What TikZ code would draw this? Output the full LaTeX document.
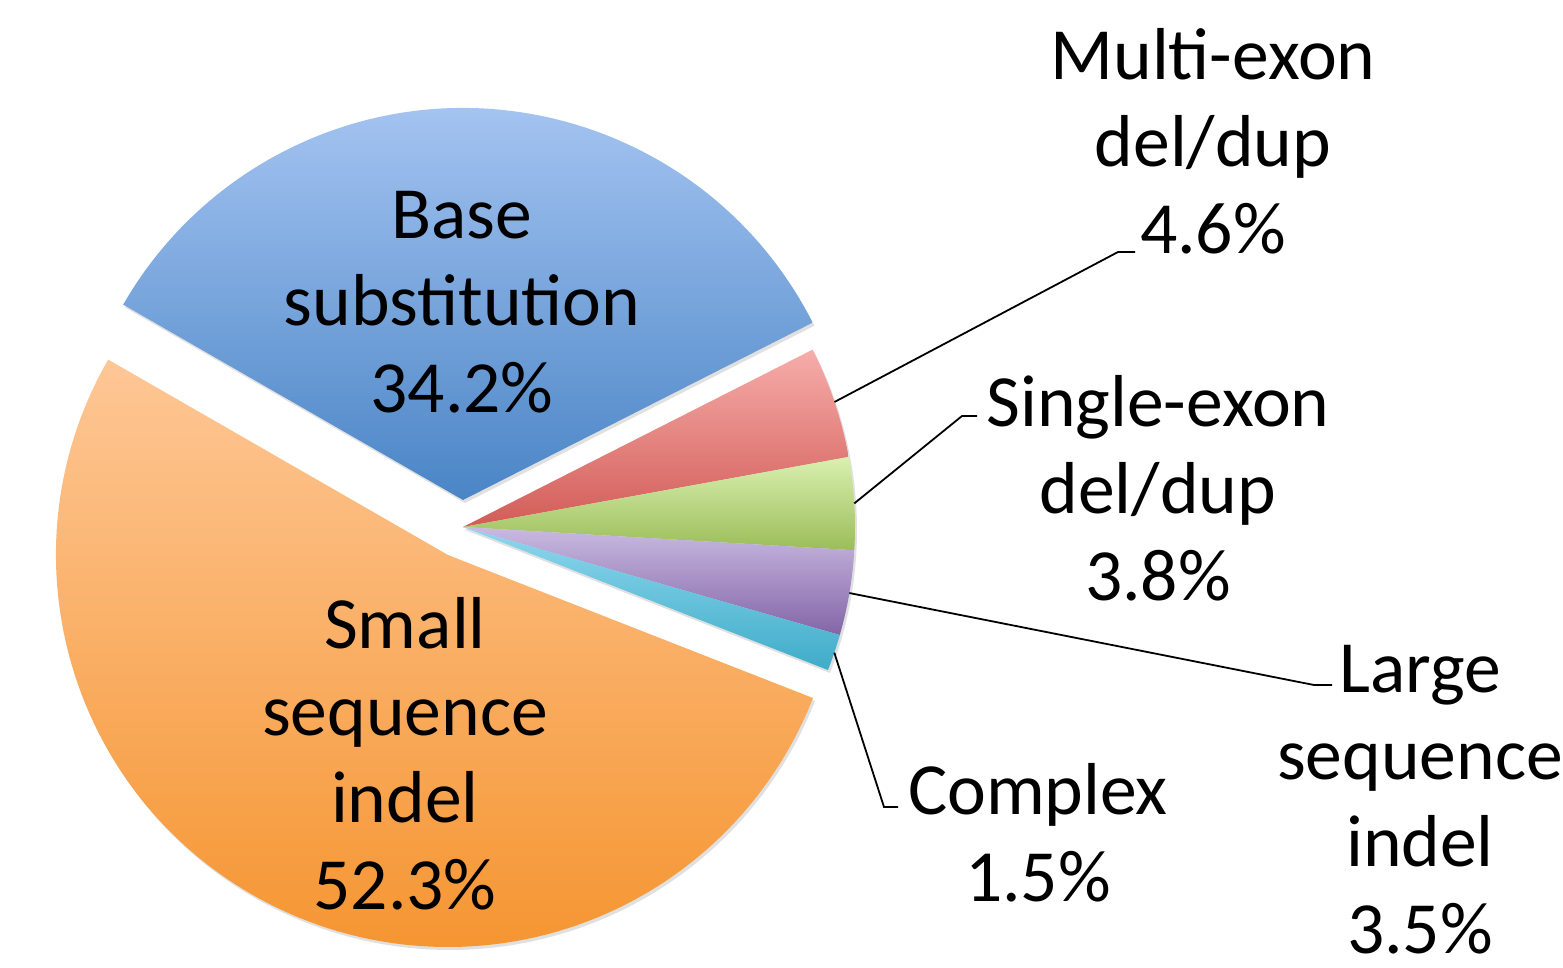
\documentclass[tikz,border=0pt]{standalone}
\usepackage{fontspec}
\setmainfont{Carlito}
\usetikzlibrary{calc}
\definecolor{baseTop}{HTML}{B0CCF7}
\definecolor{baseBot}{HTML}{4A85C6}
\definecolor{smallTop}{HTML}{FEC796}
\definecolor{smallBot}{HTML}{F5942F}
\definecolor{multiTop}{HTML}{F6ADAA}
\definecolor{multiBot}{HTML}{D25C57}
\definecolor{singleTop}{HTML}{DAF0B1}
\definecolor{singleBot}{HTML}{9BBD58}
\definecolor{largeTop}{HTML}{C9BAE1}
\definecolor{largeBot}{HTML}{8365A7}
\definecolor{cplxTop}{HTML}{8ED7EE}
\definecolor{cplxBot}{HTML}{3FACC8}
\newcommand\pieslicepath[3]{(#1) -- ($(#1)+(#2:392)$) arc[start angle=#2, end angle=#3, radius=392] -- cycle}
\begin{document}
\begin{tikzpicture}[x=0.5pt,y=0.5pt,
  lbl/.style={font=\fontsize{36.8pt}{43.5pt}\selectfont, align=center, inner sep=0pt, text=black},
  leader/.style={draw=black, line width=0.9pt},
  sliceshadow/.style={fill=black, opacity=0.12, transform canvas={xshift=1pt,yshift=-1.5pt}},
  wedge/.style 2 args={shading=axis, top color=#1, bottom color=#2}
]
\useasboundingbox (0,0) rectangle (1563,-968);
\coordinate (C) at (463,-527);
\coordinate (CB) at (463,-500);
\coordinate (CS) at (448,-555);

% shadows
\fill[sliceshadow] \pieslicepath{CB}{26.9}{150.1};
\fill[sliceshadow] \pieslicepath{CS}{150.1}{338.6};
\fill[sliceshadow] \pieslicepath{C}{-21.4}{26.9};

% slices
\path[wedge={baseTop}{baseBot}] \pieslicepath{CB}{26.9}{150.1};
\path[wedge={smallTop}{smallBot}] \pieslicepath{CS}{150.1}{338.6};
\path[wedge={multiTop}{multiBot}] \pieslicepath{C}{10.3}{26.9};
\path[wedge={singleTop}{singleBot}] \pieslicepath{C}{-3.4}{10.3};
\path[wedge={largeTop}{largeBot}] \pieslicepath{C}{-16.0}{-3.4};
\path[wedge={cplxTop}{cplxBot}] \pieslicepath{C}{-21.4}{-16.0};

% labels
\node[lbl] (base) at (462,-302) {Base\\substitution\\34.2\%};
\node[lbl] (small) at (405,-754) {Small\\sequence\\indel\\52.3\%};
\node[lbl] (multi) at (1213,-141) {Multi-exon\\del/dup\\4.6\%};
\node[lbl] (single) at (1158,-488) {Single-exon\\del/dup\\3.8\%};
\node[lbl] (large) at (1420,-800) {Large\\sequence\\indel\\3.5\%};
\node[lbl] (complex) at (1038,-833) {Complex\\1.5\%};

% leader lines
\coordinate (pm) at ($(C)+(18.6:392)$);
\coordinate (ps) at ($(C)+(3.45:392)$);
\coordinate (pl) at ($(C)+(-9.7:392)$);
\coordinate (pc) at ($(C)+(-18.7:392)$);
\coordinate (em) at (1118,-252);
\coordinate (tm) at (1135,-252);
\coordinate (es) at (962,-416);
\coordinate (ts) at (977,-416);
\coordinate (el) at (1314,-685);
\coordinate (tl) at (1332,-685);
\coordinate (ec) at (884,-807);
\coordinate (tc) at (898,-807);
\draw[leader] (pm) -- (em) -- (tm);
\draw[leader] (ps) -- (es) -- (ts);
\draw[leader] (pl) -- (el) -- (tl);
\draw[leader] (pc) -- (ec) -- (tc);
\end{tikzpicture}
\end{document}
